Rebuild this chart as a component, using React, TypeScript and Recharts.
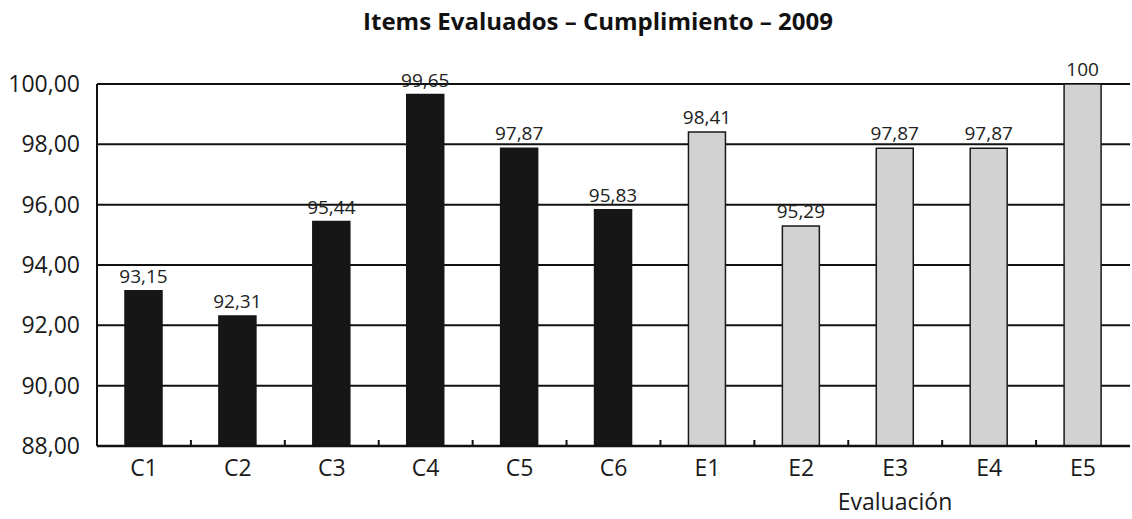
import { BarChart, Bar, XAxis, YAxis, CartesianGrid, Cell, LabelList } from 'recharts';

const categories = ['C1', 'C2', 'C3', 'C4', 'C5', 'C6', 'E1', 'E2', 'E3', 'E4', 'E5'];
const values = [93.15, 92.31, 95.44, 99.65, 97.87, 95.83, 98.41, 95.29, 97.87, 97.87, 100];
const valueLabels = ['93,15', '92,31', '95,44', '99,65', '97,87', '95,83', '98,41', '95,29', '97,87', '97,87', '100'];
const groups = ['C', 'C', 'C', 'C', 'C', 'C', 'E', 'E', 'E', 'E', 'E'];
const yTicks = [88, 90, 92, 94, 96, 98, 100];

const W = 1132;
const H = 519;
const Y_AXIS_W = 97;
const RIGHT = 2;
const BAND = (W - Y_AXIS_W - RIGHT) / categories.length;
const X_TICK_SIZE = 6;
const X_TICK_MARGIN = 8;
const FONT = '"Open Sans", "Noto Sans", sans-serif';

const data = categories.map((c, i) => ({
  name: c,
  value: values[i],
  label: valueLabels[i],
  group: groups[i],
}));

// x tick: category name plus the small upward tick on the band boundary
function XTick(props: any) {
  const { x, y, payload, index } = props;
  const axisY = y - X_TICK_SIZE - X_TICK_MARGIN;
  const bx = x + BAND / 2;
  return (
    <g>
      {index < categories.length - 1 && (
        <line x1={bx} x2={bx} y1={axisY} y2={axisY - 6} stroke="#111" strokeWidth={2} />
      )}
      <text x={x} y={y} dy="0.71em" textAnchor="middle" fontSize={23} fill="#1a1a1a" fontFamily={FONT}>
        {payload.value}
      </text>
    </g>
  );
}

const fmtY = (v: number) => v.toFixed(2).replace('.', ',');

export default function App() {
  return (
    <div style={{ position: 'absolute', left: 0, top: 0, width: W, height: H, background: '#fff' }}>
      <BarChart width={W} height={H} data={data} margin={{ top: 84, right: RIGHT, left: 0, bottom: 33 }}>
        <CartesianGrid vertical={false} stroke="#111" strokeWidth={2} />
        <XAxis
          dataKey="name"
          height={40}
          interval={0}
          tickLine={false}
          tickSize={X_TICK_SIZE}
          tickMargin={X_TICK_MARGIN}
          axisLine={{ stroke: '#111', strokeWidth: 2.5 }}
          tick={<XTick />}
        />
        <YAxis
          width={Y_AXIS_W}
          domain={[88, 100]}
          ticks={yTicks}
          allowDataOverflow
          tickFormatter={fmtY}
          tickLine={false}
          tickSize={6}
          tickMargin={11}
          axisLine={{ stroke: '#111', strokeWidth: 2 }}
          tick={{ fontSize: 23, fill: '#1a1a1a', fontFamily: FONT }}
        />
        <Bar dataKey="value" barSize={37} isAnimationActive={false}>
          {data.map((d, i) => (
            <Cell
              key={i}
              fill={d.group === 'C' ? '#161616' : '#d2d2d2'}
              stroke={d.group === 'C' ? '#161616' : '#1a1a1a'}
              strokeWidth={1.5}
            />
          ))}
          <LabelList dataKey="label" position="top" offset={8} fontSize={19} fill="#222" fontFamily={FONT} />
        </Bar>
      </BarChart>
      <svg width={W} height={H} style={{ position: 'absolute', left: 0, top: 0, pointerEvents: 'none' }}>
        <text x={598} y={30} textAnchor="middle" fontSize={24} fontWeight={700} fill="#111" fontFamily={FONT}>
          Items Evaluados – Cumplimiento – 2009
        </text>
        <text x={895} y={510} textAnchor="middle" fontSize={23} fill="#1a1a1a" fontFamily={FONT}>
          Evaluación
        </text>
      </svg>
    </div>
  );
}
